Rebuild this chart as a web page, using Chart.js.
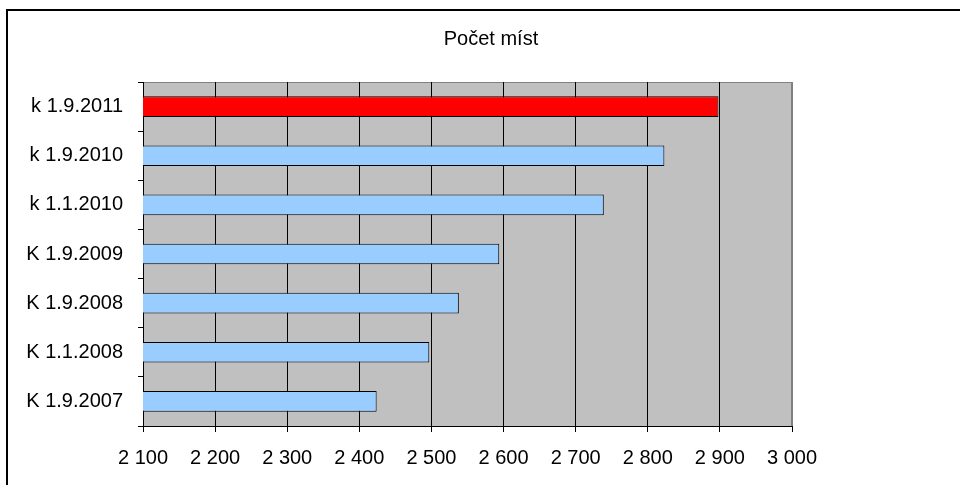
<!DOCTYPE html>
<html>
<head>
<meta charset="utf-8">
<script src="https://cdn.jsdelivr.net/npm/chart.js@4"></script>
<style>
  html, body { margin: 0; padding: 0; background: #fff; overflow: hidden; }
  #frame { position: absolute; left: 6px; top: 9px; width: 2000px; height: 2000px;
           border-left: 2px solid #000; border-top: 2px solid #000; box-sizing: border-box; }
  #wrap { position: absolute; left: 0; top: 0; width: 960px; height: 485px; }
</style>
</head>
<body>
<div id="frame"></div>
<div id="wrap"><canvas id="c" width="960" height="485"></canvas></div>
<script>
const categories = ['k 1.9.2011', 'k 1.9.2010', 'k 1.1.2010', 'K 1.9.2009', 'K 1.9.2008', 'K 1.1.2008', 'K 1.9.2007'];
const values = [2898, 2823, 2739, 2594, 2538, 2497, 2424];
const barColors = ['#ff0000', '#99ccff', '#99ccff', '#99ccff', '#99ccff', '#99ccff', '#99ccff'];
const xMin = 2100, xMax = 3000, xStep = 100;
const titleText = 'Počet míst';

const FONT = "'Liberation Sans', Arial, sans-serif";

const plotBg = {
  id: 'plotBg',
  beforeDraw(chart) {
    const a = chart.chartArea, ctx = chart.ctx;
    ctx.save();
    ctx.fillStyle = '#c0c0c0';
    ctx.fillRect(a.left, a.top, a.right - a.left, a.bottom - a.top);
    ctx.strokeStyle = '#808080';
    ctx.lineWidth = 1;
    ctx.strokeRect(a.left + 0.5, a.top + 0.5, a.right - a.left - 1, a.bottom - a.top);
    ctx.restore();
  }
};

new Chart(document.getElementById('c'), {
  type: 'bar',
  data: {
    labels: categories,
    datasets: [{
      data: values,
      backgroundColor: barColors,
      borderColor: '#000',
      borderWidth: 1,
      borderSkipped: false,
      categoryPercentage: 1,
      barPercentage: 0.42
    }]
  },
  options: {
    indexAxis: 'y',
    responsive: false,
    animation: false,
    devicePixelRatio: 1,
    layout: { padding: { left: 22, right: 0, top: 0, bottom: 0 } },
    plugins: {
      legend: { display: false },
      tooltip: { enabled: false },
      title: {
        display: true,
        text: titleText,
        color: '#000',
        font: { family: FONT, size: 20, weight: 'normal', lineHeight: 1.2 },
        padding: { top: 27, bottom: 31 }
      }
    },
    scales: {
      x: {
        type: 'linear',
        min: xMin, max: xMax,
        afterFit(s) { s.height = 59; },
        ticks: {
          stepSize: xStep,
          color: '#000',
          padding: 14,
          maxRotation: 0,
          font: { family: FONT, size: 20 },
          callback: v => String(v).replace(/\B(?=(\d{3})+(?!\d))/g, ' ')
        },
        grid: {
          color: ctx => (ctx.tick && ctx.tick.value === xMax) ? '#808080' : '#000',
          lineWidth: 1,
          drawTicks: true,
          tickLength: 6,
          tickColor: '#000'
        },
        border: { display: true, color: '#000', width: 1 }
      },
      y: {
        type: 'category',
        afterFit(s) { s.width = 121; },
        ticks: {
          color: '#000',
          padding: 15,
          font: { family: FONT, size: 20 }
        },
        grid: {
          offset: true,
          drawOnChartArea: false,
          drawTicks: true,
          tickLength: 5,
          color: '#000'
        },
        border: { display: true, color: '#000', width: 1 }
      },
      y2: {
        type: 'category',
        position: 'right',
        display: true,
        afterFit(s) { s.width = 168; },
        ticks: { display: false },
        grid: { display: false },
        border: { display: false }
      }
    }
  },
  plugins: [plotBg]
});
</script>
</body>
</html>
